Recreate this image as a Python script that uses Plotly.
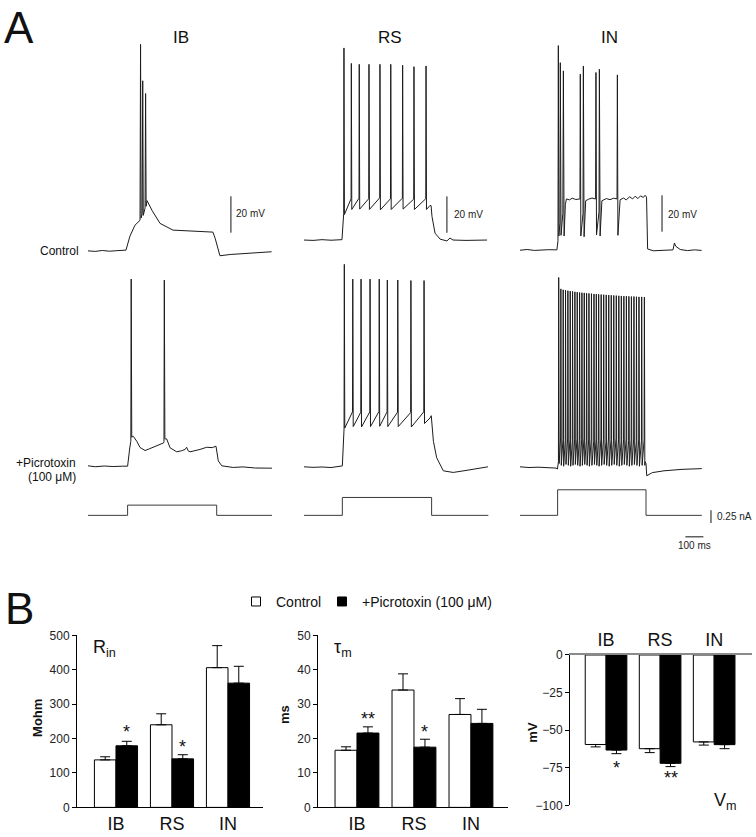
import plotly.graph_objects as go

W, H = 756, 837
FONT = "Liberation Sans, Arial, sans-serif"

# ---------------- A: recorded traces (time in ms, potential in mV) ----------------
# IB cell, control
ib_ctrl_t = [0, 40, 80, 120, 160, 205, 211, 233, 261, 289, 292, 295, 301, 304, 307,
             317, 320, 323, 328, 356, 400, 472, 567, 694, 706, 733, 790, 844, 930, 1020]
ib_ctrl_v = [-65.0, -65.3, -64.8, -65.2, -64.9, -65.0, -64.6, -56.9, -50.9, -48.2, 48.5, -47.0,
             -44.5, 28.5, -45.5, -41.5, 21.5, -40.5, -37.4, -42.8, -49.9, -53.6, -54.2, -54.7,
             -58.0, -67.7, -67.0, -66.6, -66.1, -65.5]

# IB cell, +picrotoxin
ib_pic_t = [0, 40, 90, 140, 190, 220, 232, 238, 240, 243, 252, 271, 289, 317, 340, 363, 400,
            420, 422, 424, 427, 437, 456, 493, 520, 539, 548, 556, 567, 595, 622, 659, 690,
            711, 716, 724, 743, 807, 860, 930, 1022]
ib_pic_v = [-64.8, -65.3, -64.9, -65.2, -65.0, -65.0, -55.0, -51.3, 37.9, -49.0, -48.6, -51.3,
            -54.7, -56.4, -55.5, -54.6, -53.1, -52.2, -51.5, 37.3, -50.0, -50.0, -54.9, -57.1,
            -56.5, -55.8, -54.6, -56.5, -57.1, -56.5, -55.8, -54.6, -54.8, -54.0, -58.0, -62.1,
            -64.8, -65.7, -65.4, -66.0, -66.1]

# RS cell, control
rs_ctrl_pre_t = [0, 50, 100, 150, 211, 217]
rs_ctrl_pre_v = [-65.0, -65.2, -64.8, -65.1, -64.8, -55.8]
rs_ctrl_spk_t = [222, 263, 307, 361, 422, 482, 548, 611, 678]
rs_ctrl_spk_pre = [-50.4, -42.3, -42.0, -42.3, -41.8, -42.3, -42.0, -42.5, -42.3]
rs_ctrl_spk_peak = [40.6, 32.1, 31.6, 31.6, 31.6, 31.6, 31.1, 30.3, 30.7]
rs_ctrl_spk_trough = [-51.0, -48.2, -48.0, -48.2, -48.4, -48.2, -48.0, -48.2, -48.2]
rs_ctrl_post_t = [700, 706, 711, 728, 756, 794, 811, 828, 900, 1017]
rs_ctrl_post_v = [-46.0, -46.1, -52.0, -61.2, -64.5, -65.5, -63.9, -65.0, -65.2, -65.0]

# RS cell, +picrotoxin
rs_pic_pre_t = [0, 50, 100, 150, 213, 218]
rs_pic_pre_v = [-64.8, -65.1, -64.9, -65.2, -64.3, -47.2]
rs_pic_spk_t = [224, 271, 317, 367, 418, 463, 521, 594, 667]
rs_pic_spk_pre = [-44.0, -34.6, -34.8, -34.6, -34.4, -34.6, -34.8, -35.0, -34.6]
rs_pic_spk_peak = [46.5, 38.4, 38.4, 38.4, 38.4, 37.9, 37.9, 37.6, 37.6]
rs_pic_spk_trough = [-43.5, -42.7, -42.9, -42.7, -42.5, -42.7, -42.7, -42.9, -41.0]
rs_pic_post_t = [700, 707, 719, 737, 774, 829, 900, 1022]
rs_pic_post_v = [-38.0, -36.7, -50.8, -59.8, -67.0, -67.9, -66.8, -64.8]

# IN cell, control
in_ctrl_t = [0, 40, 80, 120, 160, 205, 211, 213, 216, 222, 224, 228, 238, 241, 245, 252, 258,
             275, 290, 310, 330, 333, 335, 338, 350, 352, 356, 365, 380, 400, 418, 420, 422,
             425, 439, 441, 445, 455, 480, 500, 520, 539, 541, 544, 556, 575, 590, 610, 625,
             640, 655, 670, 685, 695, 703, 706, 709, 740, 800, 850, 858, 865, 890, 930, 970, 1009]
in_ctrl_v = [-65.2, -64.8, -65.3, -65.0, -64.9, -65.0, -60.0, 47.3, -57.4, -50.0, 37.9, -57.0,
             -45.0, 33.4, -57.4, -40.0, -37.0, -37.5, -36.6, -37.3, -37.0, -37.0, 31.6, -57.4,
             -45.0, 36.1, -57.8, -38.0, -37.2, -36.5, -37.0, -37.0, 32.5, -56.8, -44.0, 34.3,
             -57.4, -38.0, -36.8, -37.4, -36.6, -37.0, 31.2, -57.0, -37.5, -36.5, -37.5, -35.8,
             -37.0, -35.5, -36.8, -35.3, -36.2, -35.0, -36.0, -50.0, -64.5, -65.5, -65.3, -65.0,
             -61.2, -63.0, -64.8, -65.4, -65.0, -65.3]

# IN cell, +picrotoxin (tonic fast spiking)
in_pic_pre_t = [0, 50, 100, 150, 200, 208]
in_pic_pre_v = [-64.8, -65.2, -65.0, -65.3, -65.5, -66.0]
in_pic_spk_t = [215, 227, 240, 253, 266, 279, 292, 305, 318, 331, 344, 357, 370, 383, 397, 411,
                424, 437, 451, 465, 479, 493, 507, 521, 535, 549, 563, 577, 591, 605, 619, 633,
                647, 661, 676, 691]
in_pic_spk_pre = [-62.0, -49.0, -50.0, -50.5, -49.5, -50.0, -51.0, -50.0, -49.5, -50.5, -50.0,
                  -49.0, -50.5, -50.0, -49.5, -51.0, -50.0, -50.5, -49.5, -50.0, -51.0, -49.5,
                  -50.0, -50.5, -49.0, -50.0, -51.0, -50.0, -49.5, -50.5, -50.0, -49.5, -51.0,
                  -50.0, -50.5, -50.0]
in_pic_spk_peak = [39.3, 33.0, 32.5, 32.3, 32.0, 31.8, 31.6, 31.4, 31.2, 31.0, 30.9, 30.8, 30.6,
                   30.5, 30.4, 30.2, 30.1, 30.0, 29.9, 29.8, 29.7, 29.6, 29.5, 29.4, 29.3, 29.2,
                   29.1, 29.0, 29.0, 28.9, 28.8, 28.8, 28.7, 28.6, 28.6, 28.5]
in_pic_spk_trough = [-63.0, -64.0, -64.5, -63.5, -64.0, -64.5, -64.0, -63.5, -64.0, -64.5, -64.0,
                     -63.5, -64.0, -64.5, -64.0, -63.5, -64.0, -64.5, -64.0, -63.5, -64.0, -64.5,
                     -64.0, -63.5, -64.0, -64.5, -64.0, -63.5, -64.0, -64.5, -64.0, -63.5, -64.0,
                     -64.5, -64.0, -64.0]
in_pic_post_t = [695, 700, 704, 735, 800, 900, 1010]
in_pic_post_v = [-62.0, -63.0, -69.7, -68.0, -67.0, -66.2, -65.8]

# injected current steps (ms, nA)
ib_step_t = [0, 220, 220, 715, 715, 1022]
ib_step_i = [0, 0, 0.2, 0.2, 0, 0]
rs_step_t = [0, 213, 213, 709, 709, 1024]
rs_step_i = [0, 0, 0.35, 0.35, 0, 0]
in_step_t = [0, 209, 209, 700, 700, 1010]
in_step_i = [0, 0, 0.5, 0.5, 0, 0]

# ---------------- B: passive properties ----------------
cats = ["IB", "RS", "IN"]
rin_ctrl = [138, 240, 406]
rin_ctrl_err = [9, 32, 64]
rin_pic = [179, 141, 361]
rin_pic_err = [13, 12, 49]
tau_ctrl = [16.6, 34.1, 27.0]
tau_ctrl_err = [1.0, 4.7, 4.6]
tau_pic = [21.6, 17.5, 24.4]
tau_pic_err = [1.8, 2.3, 4.1]
vm_ctrl = [-59.5, -62.3, -57.8]
vm_ctrl_err = [1.6, 2.6, 2.1]
vm_pic = [-63.2, -72.0, -59.6]
vm_pic_err = [2.4, 2.2, 2.7]
rin_stars = ["*", "*", ""]
tau_stars = ["**", "*", ""]
vm_stars = ["*", "**", ""]


def with_spikes(t0, v0, st, sa, sp, sb, t1, v1):
    t, v = list(t0), list(v0)
    for ts, a, p, b in zip(st, sa, sp, sb):
        t += [ts - 1.5, ts, ts + 2.5]
        v += [a, p, b]
    return t + list(t1), v + list(v1)


rs_ctrl_t, rs_ctrl_v = with_spikes(rs_ctrl_pre_t, rs_ctrl_pre_v, rs_ctrl_spk_t, rs_ctrl_spk_pre,
                                   rs_ctrl_spk_peak, rs_ctrl_spk_trough, rs_ctrl_post_t, rs_ctrl_post_v)
rs_pic_t, rs_pic_v = with_spikes(rs_pic_pre_t, rs_pic_pre_v, rs_pic_spk_t, rs_pic_spk_pre,
                                 rs_pic_spk_peak, rs_pic_spk_trough, rs_pic_post_t, rs_pic_post_v)
in_pic_t, in_pic_v = with_spikes(in_pic_pre_t, in_pic_pre_v, in_pic_spk_t, in_pic_spk_pre,
                                 in_pic_spk_peak, in_pic_spk_trough, in_pic_post_t, in_pic_post_v)


def xdom(a, b):
    return [a / W, b / W]


def ydom(top, bot):
    return [1 - bot / H, 1 - top / H]


def ax(n, letter):
    return f"{letter}axis" if n == 1 else f"{letter}axis{n}"


def ref(n, letter):
    return letter if n == 1 else f"{letter}{n}"


fig = go.Figure()
layout = {}

T_MAX = 1120
PX_MS, PX_MV, PX_NA = 0.18, 1.85, 52.0
col_x0 = [88, 304, 520]
# (trace t, trace v, baseline pixel row)
rows = [
    [(ib_ctrl_t, ib_ctrl_v, 248), (rs_ctrl_t, rs_ctrl_v, 237), (in_ctrl_t, in_ctrl_v, 247)],
    [(ib_pic_t, ib_pic_v, 467), (rs_pic_t, rs_pic_v, 468), (in_pic_t, in_pic_v, 468)],
]
row_box = [(15, 262), (255, 485)]
steps = [(ib_step_t, ib_step_i), (rs_step_t, rs_step_i), (in_step_t, in_step_i)]
step_base, step_box = 517, (480, 562)

n = 0
panel = {}
for c in range(3):
    x0 = col_x0[c]
    for r in range(3):
        n += 1
        layout[ax(n, "x")] = dict(domain=xdom(x0, x0 + T_MAX * PX_MS), range=[0, T_MAX],
                                  visible=False, anchor=ref(n, "y"), fixedrange=True)
        if r < 2:
            t, v, base = rows[r][c]
            top, bot = row_box[r]
            yr = [-65 - (bot - base) / PX_MV, -65 + (base - top) / PX_MV]
            color = "#1c1c1c"
        else:
            t, v = steps[c]
            top, bot = step_box
            base = step_base
            yr = [-(bot - base) / PX_NA, (base - top) / PX_NA]
            color = "#3a3a3a"
        layout[ax(n, "y")] = dict(domain=ydom(top, bot), range=yr, visible=False,
                                  anchor=ref(n, "x"), fixedrange=True)
        fig.add_trace(go.Scatter(x=t, y=v, xaxis=ref(n, "x"), yaxis=ref(n, "y"), mode="lines",
                                 line=dict(color=color, width=1), showlegend=False,
                                 hoverinfo="skip"))
        panel[(c, r)] = n

annotations = []
# 20 mV scale bars on the control traces
mv_bars = [(794, -55, -35, 811, -44.5), (794, -61, -41, 822, -50.9), (789, -55, -35, 811, -45.5)]
for c, (tb, va, vb, tt, vt) in enumerate(mv_bars):
    n = panel[(c, 0)]
    fig.add_trace(go.Scatter(x=[tb, tb], y=[va, vb], xaxis=ref(n, "x"), yaxis=ref(n, "y"),
                             mode="lines", line=dict(color="#111", width=1), showlegend=False,
                             hoverinfo="skip"))
    annotations.append(dict(x=tt, y=vt, xref=ref(n, "x"), yref=ref(n, "y"), text="20 mV",
                            showarrow=False, xanchor="left", yanchor="middle",
                            font=dict(size=10, color="#222")))
# current and time scale bars
n = panel[(2, 2)]
fig.add_trace(go.Scatter(x=[1061, 1061], y=[-0.15, 0.1], xaxis=ref(n, "x"), yaxis=ref(n, "y"),
                         mode="lines", line=dict(color="#111", width=1), showlegend=False,
                         hoverinfo="skip"))
fig.add_trace(go.Scatter(x=[919, 1019], y=[-0.42, -0.42], xaxis=ref(n, "x"), yaxis=ref(n, "y"),
                         mode="lines", line=dict(color="#111", width=1), showlegend=False,
                         hoverinfo="skip"))
annotations.append(dict(x=1083, y=-0.02, xref=ref(n, "x"), yref=ref(n, "y"), text="0.25 nA",
                        showarrow=False, xanchor="left", yanchor="middle",
                        font=dict(size=10, color="#222")))
annotations.append(dict(x=969, y=-0.59, xref=ref(n, "x"), yref=ref(n, "y"), text="100 ms",
                        showarrow=False, xanchor="center", yanchor="middle",
                        font=dict(size=10, color="#222")))


def paper_text(text, x, y, size, xanchor="center", angle=0, bold=False):
    if bold:
        text = f"<b>{text}</b>"
    annotations.append(dict(x=x / W, y=1 - y / H, xref="paper", yref="paper", text=text,
                            showarrow=False, xanchor=xanchor, yanchor="middle", textangle=angle,
                            font=dict(size=size, color="#111", family=FONT)))


paper_text("A", 19, 21, 44)
paper_text("B", 19, 612, 44)
paper_text("IB", 181, 31, 17)
paper_text("RS", 390, 31, 17)
paper_text("IN", 609, 31, 17)
paper_text("Control", 81, 248, 12, xanchor="right")
paper_text("+Picrotoxin", 78, 464, 12, xanchor="right")
paper_text("(100 \u03bcM)", 78, 478, 12, xanchor="right")

# ---------------- bar charts ----------------
bar_specs = [
    dict(ctrl=rin_ctrl, ce=rin_ctrl_err, pic=rin_pic, pe=rin_pic_err, stars=rin_stars,
         x=(77, 263), y=(639, 814), yr=[0, 500], ticks=[0, 100, 200, 300, 400, 500],
         xr=[-0.696, 2.625], star_y=[218, 175, None], ytitle=("Mohm", 38, 723),
         label=("R<sub>in</sub>", 91, 652)),
    dict(ctrl=tau_ctrl, ce=tau_ctrl_err, pic=tau_pic, pe=tau_pic_err, stars=tau_stars,
         x=(318, 508), y=(639, 814), yr=[0, 50], ticks=[0, 10, 20, 30, 40, 50],
         xr=[-0.684, 2.65], star_y=[25.8, 21.8, None], ytitle=("ms", 285, 720),
         label=("\u03c4<sub>m</sub>", 332, 652)),
    dict(ctrl=vm_ctrl, ce=vm_ctrl_err, pic=vm_pic, pe=vm_pic_err, stars=vm_stars,
         x=(570, 752), y=(659, 812), yr=[-100, 0], ticks=[0, -25, -50, -75, -100],
         xr=[-0.667, 2.70], star_y=[-75, -82, None], ytitle=("mV", 533, 738),
         label=("V<sub>m</sub>", 712, 808)),
]

groups = [("white", "Control", "legend"), ("black", "+Picrotoxin (100 \u03bcM)", "legend2")]

for k, s in enumerate(bar_specs):
    n = 10 + k
    neg = s["yr"][1] <= 0
    for (vals, err), (fill, name, leg) in zip([(s["ctrl"], s["ce"]), (s["pic"], s["pe"])], groups):
        zeros = [0] * len(err)
        fig.add_trace(go.Bar(
            x=cats, y=vals, name=name, xaxis=ref(n, "x"), yaxis=ref(n, "y"),
            marker=dict(color=fill, line=dict(color="black", width=1)),
            error_y=dict(type="data", symmetric=False, array=zeros if neg else err,
                         arrayminus=err if neg else zeros, color="black", thickness=1, width=5),
            showlegend=False, hoverinfo="skip"))
    layout[ax(n, "x")] = dict(
        domain=xdom(*s["x"]), range=s["xr"], anchor=ref(n, "y"), showline=True,
        linecolor="#8a8a8a" if neg else "black", linewidth=2 if neg else 1, ticks="",
        side="top" if neg else "bottom", tickfont=dict(size=18, color="#111"), showgrid=False,
        zeroline=False, fixedrange=True)
    layout[ax(n, "y")] = dict(
        domain=ydom(*s["y"]), range=s["yr"], anchor=ref(n, "x"), showline=True, linecolor="black",
        linewidth=1, ticks="outside", ticklen=4, tickcolor="black", tickvals=s["ticks"],
        tickfont=dict(size=12, color="#222"), showgrid=False, zeroline=False, fixedrange=True)
    for i, st in enumerate(s["stars"]):
        if st:
            annotations.append(dict(x=i + 0.1925, y=s["star_y"][i], xref=ref(n, "x"),
                                    yref=ref(n, "y"), text=st, showarrow=False,
                                    xanchor="center", yanchor="middle",
                                    font=dict(size=18, color="#111")))
    t, tx, ty = s["ytitle"]
    paper_text(t, tx, ty, 13, angle=-90, bold=True)
    lt, lx, ly = s["label"]
    paper_text(lt, lx, ly, 18, xanchor="left")

# legend entries: small open / filled squares as in the original key
for fill, name, leg in groups:
    fig.add_trace(go.Scatter(x=[None], y=[None], xaxis="x10", yaxis="y10", mode="markers",
                             name=name, legend=leg, hoverinfo="skip",
                             marker=dict(symbol="square", size=9, color=fill,
                                         line=dict(color="black", width=1))))

layout.update(
    width=W, height=H, margin=dict(l=0, r=0, t=0, b=0), plot_bgcolor="white",
    paper_bgcolor="white", font=dict(family=FONT, color="#111"), barmode="group", bargap=0.23,
    bargroupgap=0, annotations=annotations,
    legend=dict(orientation="h", x=236 / W, y=1 - 605 / H, xanchor="left", yanchor="middle",
                font=dict(size=14, color="#111"), bgcolor="rgba(0,0,0,0)"),
    legend2=dict(orientation="h", x=322 / W, y=1 - 605 / H, xanchor="left", yanchor="middle",
                 font=dict(size=14, color="#111"), bgcolor="rgba(0,0,0,0)"),
)
fig.update_layout(**layout)

# the page body has a default margin; drop it so the figure sits at the window origin
fig.write_html("out.html", config={"displayModeBar": False},
               post_script="document.body.style.margin='0';document.body.style.overflow='hidden';")
